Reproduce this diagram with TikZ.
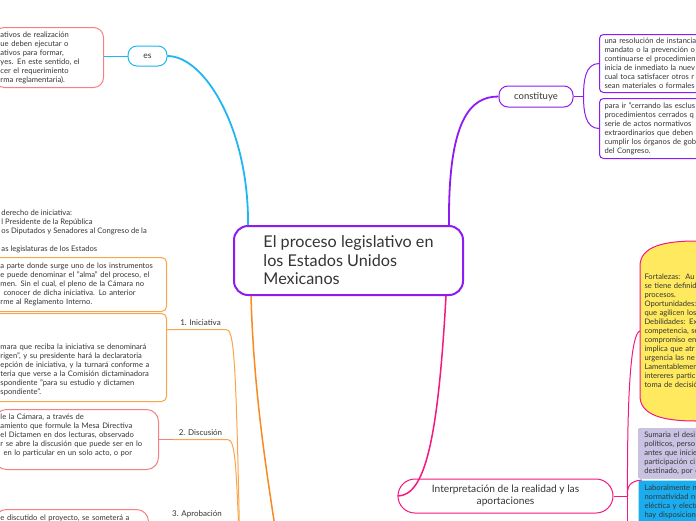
\documentclass[tikz,border=0pt]{standalone}
\usepackage{fontspec}
\setmainfont{Lato}
\usepackage{xcolor}
\usetikzlibrary{positioning,calc,backgrounds}
\definecolor{tinta}{HTML}{353535}
\definecolor{cielo}{HTML}{1FB6F2}
\definecolor{violeta}{HTML}{8E1CF2}
\definecolor{naranja}{HTML}{F98A1E}
\definecolor{naranjaclaro}{HTML}{FAA54A}
\definecolor{salmon}{HTML}{F58080}
\definecolor{rosa}{HTML}{F5197F}
\definecolor{amarillo}{HTML}{FFE95E}
\definecolor{lavanda}{HTML}{C9C2E2}
\definecolor{celeste}{HTML}{19ADF0}
\tikzset{
  mapcentral/.style={rectangle, rounded corners=14pt, draw=violeta, line width=2pt, fill=white, text=tinta, align=left, font=\fontsize{16.2}{18.5}\selectfont, minimum width=229pt, minimum height=69pt},
  mapenlace/.style={rectangle, rounded corners=9pt, line width=1pt, fill=white, text=tinta, font=\fontsize{8.5}{10}\selectfont, inner sep=0pt},
  mapcaja/.style={rectangle, line width=1pt, fill=white, text=tinta, align=left, font=\fontsize{7.6}{9}\selectfont, inner xsep=6pt, inner ysep=3pt, anchor=north west},
  mapetiq/.style={text=tinta, font=\fontsize{8}{9}\selectfont, inner xsep=5pt, inner ysep=3.5pt, anchor=south},
  ramamain/.style={line width=1.8pt},
  ramafina/.style={line width=1pt}
}
\begin{document}
\begin{tikzpicture}[x=1pt, y=-1pt]
\path[use as bounding box] (0,0) rectangle (696,520);

% tema central
\node[mapcentral] (central) at (348.5,260.5) {El proceso legislativo en\\los Estados Unidos\\Mexicanos};

% rama es
\node[mapenlace, draw=cielo, minimum width=39pt, minimum height=20pt] (es) at (147.5,56) {es};
\node[mapcaja, draw=salmon, rounded corners=10pt, text width=97pt, minimum height=60pt] (resultado) at (-6,27)
  {ativos de realización\\ue deben ejecutar o\\ativos para formar,\\yes. En este sentido, el\\cer el requerimiento\\rma reglamentaria).};

% etapas del proceso
\node[mapcaja, draw=none, fill=none, inner sep=0pt] (sujetos) at (1,209)
  {derecho de iniciativa:\\l Presidente de la República\\os Diputados y Senadores al Congreso de la\\\mbox{}\\as legislaturas de los Estados};
\node[mapcaja, draw=naranjaclaro, rounded corners=5pt, text width=160pt, minimum height=54pt] (origen) at (-6,257)
  {a parte donde surge uno de los instrumentos\\e puede denominar el "alma" del proceso, el\\men. Sin el cual, el pleno de la Cámara no\\\hspace*{3pt}conocer de dicha iniciativa. Lo anterior\\rme al Reglamento Interno.};
\node[mapcaja, draw=naranjaclaro, rounded corners=5pt, text width=160pt, minimum height=88pt] (camara) at (-6,313)
  {\mbox{}\\[22pt]mara que reciba la iniciativa se denominará\\rigen", y su presidente hará la declaratoria\\epción de iniciativa, y la turnará conforme a\\teria que verse a la Comisión dictaminadora\\spondiente "para su estudio y dictamen\\spondiente".};
\node[mapcaja, draw=salmon, rounded corners=12pt, text width=152pt, minimum height=60pt] (discusion) at (-6,409)
  {le la Cámara, a través de\\amiento que formule la Mesa Directiva\\el Dictamen en dos lecturas, observado\\r se abre la discusión que puede ser en lo\\\hspace*{3pt}en lo particular en un solo acto, o por\\\mbox{}};
\node[mapcaja, draw=salmon, rounded corners=12pt, text width=142pt, inner ysep=5pt] (aprobacion) at (-6,509)
  {e discutido el proyecto, se someterá a\\\mbox{}\\\mbox{}};
\node[mapetiq] (ini) at (200.5,329.5) {1. Iniciativa};
\node[mapetiq] (dis) at (200.5,439.5) {2. Discusión};
\node[mapetiq] (apr) at (197,521.5) {3. Aprobación};
\coordinate (etapas) at (280,560);

% rama constituye
\node[mapenlace, draw=violeta, font=\fontsize{9.5}{11}\selectfont, minimum width=74pt, minimum height=21pt] (constituye) at (536,96.5) {constituye};
\node[mapcaja, draw=violeta, rounded corners=4pt, text width=130pt, inner xsep=5pt, minimum height=58pt] (instancia) at (599,34)
  {una resolución de instancia\\mandato o la prevención o\\continuarse el procedimien\\inicia de inmediato la nuev\\cual toca satisfacer otros r\\sean materiales o formales};
\node[mapcaja, draw=violeta, rounded corners=4pt, text width=130pt, inner xsep=5pt, minimum height=60pt] (esclusas) at (599,98)
  {para ir "cerrando las esclus\\procedimientos cerrados q\\serie de actos normativos\\extraordinarios que deben\\cumplir los órganos de gob\\del Congreso.};

% rama interpretacion
\node[mapenlace, draw=rosa, rounded corners=17pt, align=center, font=\fontsize{10.2}{12}\selectfont, minimum width=215pt, minimum height=34pt] (interp) at (505.5,496)
  {Interpretación de la realidad y las\\aportaciones};
\node[mapcaja, draw=none, fill=none, text width=130pt, inner xsep=4pt, minimum height=179pt] (foda) at (640,241)
  {Fortalezas:\ \ Au\\se tiene definid\\procesos.\\Oportunidades:\\que agilicen los\\Debilidades: Ex\\competencia, se\\compromiso en\\implica que atr\\urgencia las ne\\Lamentablemen\\intereres partic\\toma de decisió};
\node[mapcaja, draw=lavanda!85!gray, fill=lavanda, rounded corners=2pt, line width=0.6pt, text width=130pt, minimum height=50pt] (sumaria) at (638,428)
  {Sumaria el desi\\políticos, perso\\antes que inicie\\participación ci\\destinado, por e};
\node[mapcaja, draw=none, fill=celeste, rounded corners=2pt, text width=130pt, inner ysep=4pt] (laboral) at (638,480)
  {Laboralmente n\\normatividad n\\eléctica y electr\\hay disposicion\\\mbox{}};
\coordinate (eje) at ([xshift=14pt]interp.east);

\begin{scope}[on background layer]
\fill[white] (0,0) rectangle (696,520);
\draw[rosa, line width=1pt, fill=amarillo]
  ([xshift=110pt]foda.north west) -- ([xshift=56pt]foda.north west)
  .. controls ([xshift=25pt]foda.north west) and ([yshift=-5pt]foda.north west) .. ([yshift=-25pt]foda.north west)
  -- ([yshift=25pt]foda.south west)
  .. controls ([yshift=5pt]foda.south west) and ([xshift=25pt]foda.south west) .. ([xshift=56pt]foda.south west)
  -- ([xshift=110pt]foda.south west);
\end{scope}

% conectores
\draw[cielo, ramamain] ([xshift=15pt]central.north west) .. controls (249,130) and (205,56) .. (es.east);
\draw[cielo, ramafina] (es.west) -- (es.west -| resultado.east);
\draw[violeta, ramamain] ([xshift=-15pt]central.north east) .. controls (448,120) and (470,96.5) .. (constituye.west);
\draw[violeta, ramafina] (constituye.east) -- ++(10,0) coordinate (llave);
\draw[violeta, ramafina] (llave) to[out=90, in=180] (instancia.west);
\draw[violeta, ramafina] (llave) to[out=-90, in=180] (esclusas.west);
\draw[naranja, line width=1.5pt] ([xshift=18pt]central.south west) .. controls (254,400) and (268,480) .. (etapas);
\draw[naranjaclaro, ramafina] (camara.east |- ini.south) -- (ini.south east) .. controls +(8,0) and (236,350) .. ([xshift=-40pt]etapas);
\draw[salmon, ramafina] (discusion.east |- dis.south) -- (dis.south west);
\draw[naranjaclaro, ramafina] (dis.south west) -- (dis.south east) .. controls +(8,0) and (236,460) .. ([xshift=-40pt]etapas);
\draw[salmon, ramafina] (aprobacion.east |- apr.south) -- (apr.south west);
\draw[naranjaclaro, ramafina] (apr.south west) -- (apr.south east) .. controls +(8,0) and (238,530) .. ([xshift=-40pt]etapas);
\draw[rosa, line width=1.5pt] ([xshift=-18pt]central.south east) .. controls (438,440) and (425,496) .. (interp.west);
\draw[rosa, ramafina] (interp.east) -- (eje);
\draw[rosa, ramafina] (eje) .. controls (627,380) and (632,333) .. (foda.west);
\draw[rosa, ramafina] (eje) .. controls (627,486) and (630,481) .. ([xshift=4pt]laboral.north west);
\draw[rosa, ramafina] (eje) -- ++(0,60);
\end{tikzpicture}
\end{document}
